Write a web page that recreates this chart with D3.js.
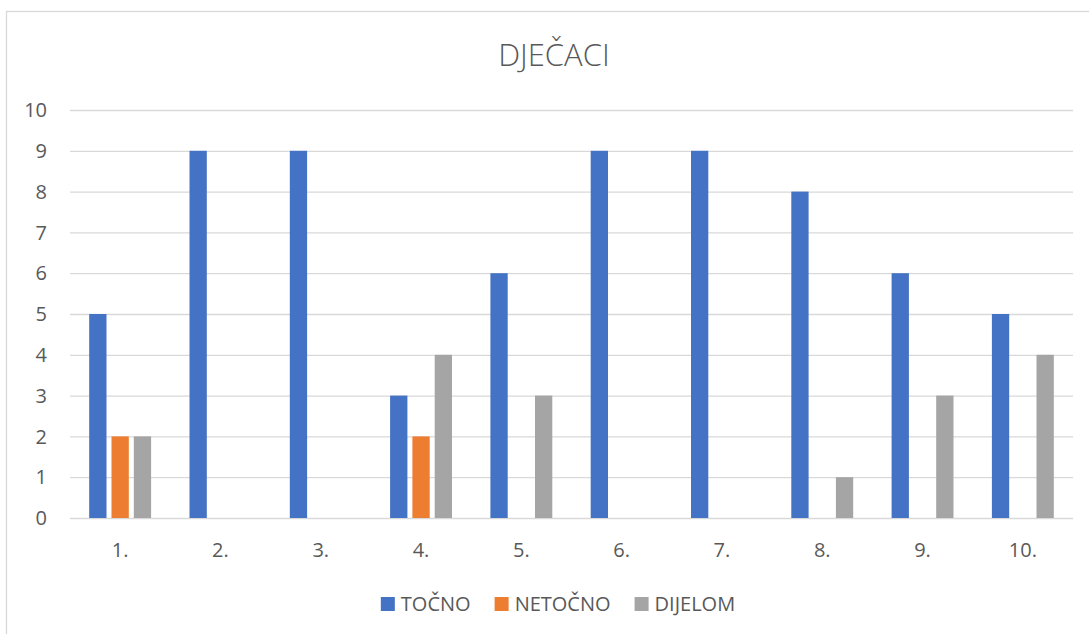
<!DOCTYPE html>
<html>
<head>
<meta charset="utf-8">
<script src="https://cdn.jsdelivr.net/npm/d3@7"></script>
<style>
  html, body { margin: 0; padding: 0; background: #fff; }
  svg { display: block; font-family: "Open Sans", "Noto Sans", sans-serif; }
</style>
</head>
<body>
<svg id="chart" width="1089" height="634"></svg>
<script>
// chart data
const categories = ["1.", "2.", "3.", "4.", "5.", "6.", "7.", "8.", "9.", "10."];
const seriesNames = ["TOČNO", "NETOČNO", "DIJELOM"];
const tocno   = [5, 9, 9, 3, 6, 9, 9, 8, 6, 5];
const netocno = [2, 0, 0, 2, 0, 0, 0, 0, 0, 0];
const dijelom = [2, 0, 0, 4, 3, 0, 0, 1, 3, 4];
const yTicks = [0, 1, 2, 3, 4, 5, 6, 7, 8, 9, 10];

const colors = ["#4472c4", "#ed7d31", "#a5a5a5"];
const values = [tocno, netocno, dijelom];

const W = 1089, H = 634;
const plot = { left: 70, right: 1073, top: 110, bottom: 518 };

const svg = d3.select("#chart");

// outer chart border (runs off the image on the right/bottom)
svg.append("rect")
  .attr("x", 6.5).attr("y", 11.5)
  .attr("width", W + 20).attr("height", H + 20)
  .attr("fill", "none")
  .attr("stroke", "#d9d9d9")
  .attr("stroke-width", 1.3);

// title
svg.append("text")
  .attr("x", 554).attr("y", 66)
  .attr("text-anchor", "middle")
  .attr("fill", "#595959")
  .style("font-size", "31px")
  .style("font-weight", 300)
  .text("DJEČACI");

const x0 = d3.scaleBand()
  .domain(categories)
  .range([plot.left, plot.right]);

const y = d3.scaleLinear()
  .domain([0, 10])
  .range([plot.bottom, plot.top]);

// gridlines
svg.append("g")
  .selectAll("line")
  .data(yTicks)
  .join("line")
  .attr("x1", plot.left).attr("x2", plot.right)
  .attr("y1", d => y(d) + 0.5).attr("y2", d => y(d) + 0.5)
  .attr("stroke", "#d9d9d9")
  .attr("stroke-width", 1.3);

// y tick labels
svg.append("g")
  .selectAll("text")
  .data(yTicks)
  .join("text")
  .attr("x", 47)
  .attr("y", d => y(d))
  .attr("dy", "0.36em")
  .attr("text-anchor", "end")
  .attr("fill", "#595959")
  .style("font-size", "20px")
  .text(d => d);

// bars: group ~62px wide, bars ~17.3px with ~5px gaps
const barW = 17.3, gap = 5;
const groupW = 3 * barW + 2 * gap;
const x1 = d3.scaleBand()
  .domain(d3.range(3))
  .range([0, groupW])
  .paddingInner(gap / (barW + gap))
  .paddingOuter(0);

const groups = svg.append("g")
  .selectAll("g")
  .data(categories)
  .join("g")
  .attr("transform", d => `translate(${x0(d) + x0.bandwidth() / 2 - groupW / 2},0)`);

groups.selectAll("rect")
  .data((d, i) => values.map((s, k) => ({ k, v: s[i] })))
  .join("rect")
  .attr("x", d => x1(d.k))
  .attr("width", x1.bandwidth())
  .attr("y", d => y(d.v))
  .attr("height", d => y(0) - y(d.v))
  .attr("fill", d => colors[d.k]);

// x labels
svg.append("g")
  .selectAll("text")
  .data(categories)
  .join("text")
  .attr("x", d => x0(d) + x0.bandwidth() / 2)
  .attr("y", 557)
  .attr("text-anchor", "middle")
  .attr("fill", "#595959")
  .style("font-size", "20px")
  .text(d => d);

// legend
const legend = svg.append("g");
const items = legend.selectAll("g")
  .data(seriesNames)
  .join("g");
items.append("rect")
  .attr("width", 14).attr("height", 14)
  .attr("y", -14)
  .attr("fill", (d, i) => colors[i]);
items.append("text")
  .attr("x", 20)
  .attr("fill", "#595959")
  .style("font-size", "20px")
  .text(d => d);

let lx = 0;
const spacing = 24;
items.each(function() {
  const g = d3.select(this);
  const tw = g.select("text").node().getComputedTextLength();
  g.attr("transform", `translate(${lx},611)`);
  lx += 20 + tw + spacing;
});
const legendW = lx - spacing;
legend.attr("transform", `translate(${558 - legendW / 2},0)`);
</script>
</body>
</html>
